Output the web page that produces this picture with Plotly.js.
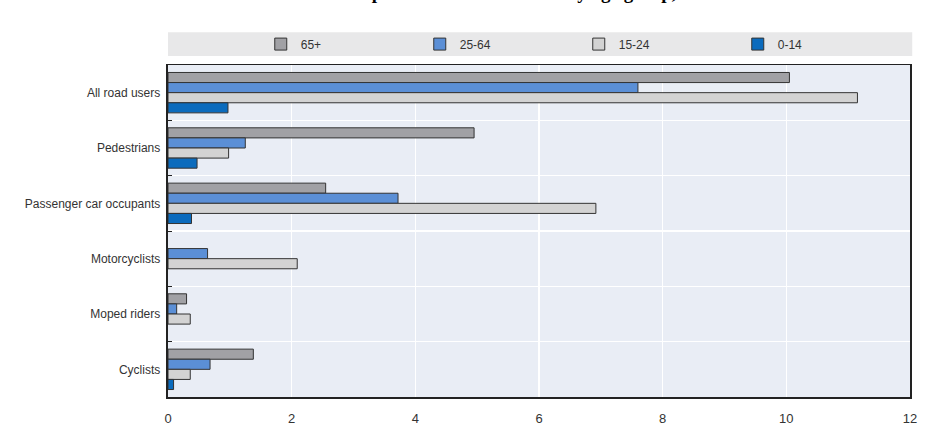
<!DOCTYPE html>
<html>
<head>
<meta charset="utf-8">
<script src="https://cdn.plot.ly/plotly-3.0.1.min.js"></script>
<style>
  html, body { margin: 0; padding: 0; background: #fff; }
  #chart { width: 933px; height: 436px; }
</style>
</head>
<body>
<div id="chart"></div>
<script>
var CHART = document.getElementById("chart");

var categories = ["All road users", "Pedestrians", "Passenger car occupants",
                  "Motorcyclists", "Moped riders", "Cyclists"];

var age65plus = [10.05, 4.95, 2.55, null, 0.30, 1.38];
var age25to64 = [7.6, 1.25, 3.72, 0.64, 0.14, 0.68];
var age15to24 = [11.15, 0.98, 6.92, 2.09, 0.36, 0.36];
var age0to14  = [0.97, 0.47, 0.38, null, null, 0.09];

var seriesNames = ["65+", "25-64", "15-24", "0-14"];
var seriesValues = [age65plus, age25to64, age15to24, age0to14];
var seriesColors = ["#a1a1a5", "#5b8fd6", "#d3d3d3", "#0b6bbd"];

var fontNarrow = "'Liberation Sans Narrow', 'Arial Narrow', 'Liberation Sans', Arial, sans-serif";

var data = [];
for (var i = 0; i < seriesNames.length; i++) {
    data.push({
        name: seriesNames[i],
        type: 'bar',
        orientation: 'h',
        y: categories,
        x: seriesValues[i],
        marker: { color: seriesColors[i], line: { color: '#333333', width: 1 } },
        hoverinfo: 'x+name'
    });
}

var layout = {
    width: 933,
    height: 436,
    margin: { l: 168, r: 23, t: 65, b: 39 },
    paper_bgcolor: '#ffffff',
    plot_bgcolor: '#e9edf5',
    font: { family: fontNarrow, size: 12, color: '#333333' },
    barmode: 'group',
    bargap: 0.27,
    bargroupgap: 0,
    showlegend: true,
    legend: {
        orientation: 'h',
        x: 0.125, xanchor: 'left',
        y: 1.063, yanchor: 'middle',
        bgcolor: 'rgba(0,0,0,0)',
        font: { family: fontNarrow, size: 12, color: '#333333' },
        itemwidth: 30,
        entrywidth: 114,
        traceorder: 'normal'
    },
    xaxis: {
        range: [0, 12],
        dtick: 2,
        showgrid: true,
        gridcolor: '#ffffff',
        gridwidth: 1.5,
        zeroline: false,
        showline: true,
        linecolor: '#222222',
        linewidth: 1.5,
        mirror: true,
        ticks: 'outside',
        ticklen: 9,
        tickcolor: 'rgba(0,0,0,0)',
        tickfont: { family: fontNarrow, size: 13, color: '#333333' },
        fixedrange: true
    },
    yaxis: {
        type: 'category',
        autorange: 'reversed',
        tickson: 'boundaries',
        ticks: 'inside',
        ticklen: 4,
        tickcolor: '#222222',
        showgrid: true,
        gridcolor: '#ffffff',
        gridwidth: 1.5,
        showline: true,
        linecolor: '#222222',
        linewidth: 2,
        mirror: true,
        tickfont: { family: fontNarrow, size: 12, color: '#333333' },
        ticksuffix: ' ',
        fixedrange: true
    },
    shapes: [{
        type: 'rect',
        xref: 'paper', yref: 'paper',
        x0: 0, x1: 1.003,
        y0: 1.027, y1: 1.099,
        fillcolor: '#e8e8e9',
        line: { width: 0 },
        layer: 'below'
    }],
    annotations: [{
        text: 'Fatalities per 100 000 inhabitants by age group, 2015',
        xref: 'paper', yref: 'paper',
        x: 0.164, xanchor: 'left',
        y: 1.18, yanchor: 'bottom',
        showarrow: false,
        font: { family: "'Liberation Serif', 'DejaVu Serif', serif", size: 19, color: '#000000', weight: 'bold' }
    }]
};

var config = { responsive: false, displayModeBar: false, staticPlot: true };
Plotly.newPlot(CHART, data, layout, config);
</script>
</body>
</html>
